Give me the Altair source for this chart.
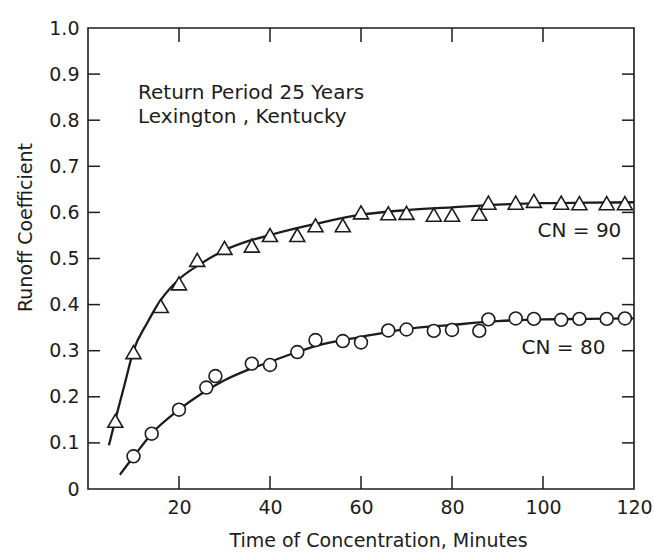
import altair as alt
import pandas as pd

# ---- observed points (Time of concentration, minutes / runoff coefficient) ----
cn90_minutes = [6, 10, 16, 20, 24, 30, 36, 40, 46, 50, 56, 60, 66, 70, 76, 80, 86, 88, 94, 98, 104, 108, 114, 118]
cn90_coef = [0.148, 0.297, 0.397, 0.446, 0.497, 0.523, 0.528, 0.551, 0.551, 0.572, 0.572, 0.600,
             0.598, 0.599, 0.595, 0.595, 0.597, 0.621, 0.621, 0.625, 0.621, 0.620, 0.620, 0.620]

cn80_minutes = [10, 14, 20, 26, 28, 36, 40, 46, 50, 56, 60, 66, 70, 76, 80, 86, 88, 94, 98, 104, 108, 114, 118]
cn80_coef = [0.071, 0.120, 0.172, 0.220, 0.245, 0.272, 0.269, 0.297, 0.323, 0.321, 0.318, 0.344,
             0.346, 0.343, 0.345, 0.343, 0.368, 0.370, 0.369, 0.367, 0.369, 0.369, 0.370]

# ---- fitted curves ----
fit90_minutes = [4.6, 6, 8, 10, 13, 16, 20, 25, 30, 35, 40, 50, 60, 70, 80, 90, 100, 110, 120]
fit90_coef = [0.095, 0.15, 0.225, 0.30, 0.36, 0.41, 0.455, 0.49, 0.518, 0.537, 0.551, 0.575,
              0.595, 0.605, 0.611, 0.617, 0.620, 0.621, 0.622]

fit80_minutes = [7, 10, 14, 20, 25, 30, 35, 40, 45, 50, 60, 70, 80, 90, 100, 110, 120]
fit80_coef = [0.031, 0.070, 0.120, 0.172, 0.207, 0.236, 0.258, 0.276, 0.294, 0.310, 0.330,
              0.347, 0.356, 0.364, 0.368, 0.369, 0.370]

# ---- axes ----
x_label_values = [20, 40, 60, 80, 100, 120]
y_label_values = [0.0, 0.1, 0.2, 0.3, 0.4, 0.5, 0.6, 0.7, 0.8, 0.9, 1.0]
x_inner_ticks = [20, 40, 60, 80, 100]
y_inner_ticks = [0.1, 0.2, 0.3, 0.4, 0.5, 0.6, 0.7, 0.8, 0.9]

# ---- annotations ----
note_text = ["Return Period 25 Years", "Lexington , Kentucky"]
note_minutes = [11, 11]
note_coef = [0.858, 0.808]
cn_text = ["CN = 90", "CN = 80"]
cn_minutes = [108, 104.5]
cn_coef = [0.56, 0.305]

W, H = 546, 461
INK = "#1c1c1c"
FONT = "DejaVu Sans"

xs = alt.Scale(domain=[0, 120], nice=False, zero=False)
ys = alt.Scale(domain=[0, 1], nice=False, zero=False)

x_axis = alt.Axis(values=x_label_values, ticks=False, tickSize=0, domain=False, grid=False,
                  labelPadding=9, labelFlush=False, labelFont=FONT, labelFontSize=19,
                  labelColor=INK, title="Time of Concentration, Minutes", titleFont=FONT,
                  titleFontSize=19, titleFontWeight="normal", titleColor=INK,
                  titleX=290, titleY=51, titleAlign="center", titleBaseline="middle")
y_axis = alt.Axis(values=y_label_values, ticks=False, tickSize=0, domain=False, grid=False,
                  labelPadding=9, labelFont=FONT, labelFontSize=19, labelColor=INK,
                  labelExpr="datum.value == 0 ? '0' : format(datum.value, '.1f')",
                  title="Runoff Coefficient", titleFont=FONT, titleFontSize=19,
                  titleFontWeight="normal", titleColor=INK, titleX=-63, titleY=199,
                  titleAngle=270, titleAlign="center", titleBaseline="middle")

X = alt.X("t:Q", scale=xs, axis=x_axis)
Y = alt.Y("c:Q", scale=ys, axis=y_axis)

pts90 = pd.DataFrame({"t": cn90_minutes, "c": cn90_coef})
pts80 = pd.DataFrame({"t": cn80_minutes, "c": cn80_coef})
fit90 = pd.DataFrame({"t": fit90_minutes, "c": fit90_coef})
fit80 = pd.DataFrame({"t": fit80_minutes, "c": fit80_coef})
notes = pd.DataFrame({"t": note_minutes, "c": note_coef, "txt": note_text})
cns = pd.DataFrame({"t": cn_minutes, "c": cn_coef, "txt": cn_text})
yt = pd.DataFrame({"c": y_inner_ticks})
xt = pd.DataFrame({"t": x_inner_ticks})

line90 = alt.Chart(fit90).mark_line(color=INK, strokeWidth=2.3, interpolate="monotone").encode(x=X, y=Y)
line80 = alt.Chart(fit80).mark_line(color=INK, strokeWidth=2.3, interpolate="monotone").encode(x=X, y=Y)

tri = alt.Chart(pts90).mark_point(shape="triangle-up", size=225, filled=True, fill="white",
                                  stroke=INK, strokeWidth=1.6, opacity=1).encode(x=X, y=Y)
circ = alt.Chart(pts80).mark_point(shape="circle", size=165, filled=True, fill="white",
                                   stroke=INK, strokeWidth=1.6, opacity=1).encode(x=X, y=Y)

note_layer = alt.Chart(notes).mark_text(align="left", baseline="middle", font=FONT,
                                        fontSize=20, color=INK).encode(x=X, y=Y, text="txt:N")
cn_layer = alt.Chart(cns).mark_text(align="center", baseline="middle", font=FONT,
                                    fontSize=20, color=INK).encode(x=X, y=Y, text="txt:N")

left_ticks = alt.Chart(yt).mark_rule(color=INK, strokeWidth=1.5).encode(
    y=Y, x=alt.value(0), x2=alt.value(12))
right_ticks = alt.Chart(yt).mark_rule(color=INK, strokeWidth=1.5).encode(
    y=Y, x=alt.value(W - 12), x2=alt.value(W))
bottom_ticks = alt.Chart(xt).mark_rule(color=INK, strokeWidth=1.5).encode(
    x=X, y=alt.value(H), y2=alt.value(H - 13))
top_ticks = alt.Chart(xt).mark_rule(color=INK, strokeWidth=1.5).encode(
    x=X, y=alt.value(0), y2=alt.value(14))

chart = alt.layer(
    left_ticks, right_ticks, bottom_ticks, top_ticks,
    line90, line80, tri, circ, note_layer, cn_layer
).properties(
    width=W, height=H,
    autosize=alt.AutoSizeParams(type="none"),
    padding={"left": 88, "top": 28, "right": 654 - 88 - W, "bottom": 560 - 28 - H},
    background="white",
).configure_view(stroke=INK, strokeWidth=1.6)

chart.save("out.html", embed_options={"renderer": "svg", "actions": False})
